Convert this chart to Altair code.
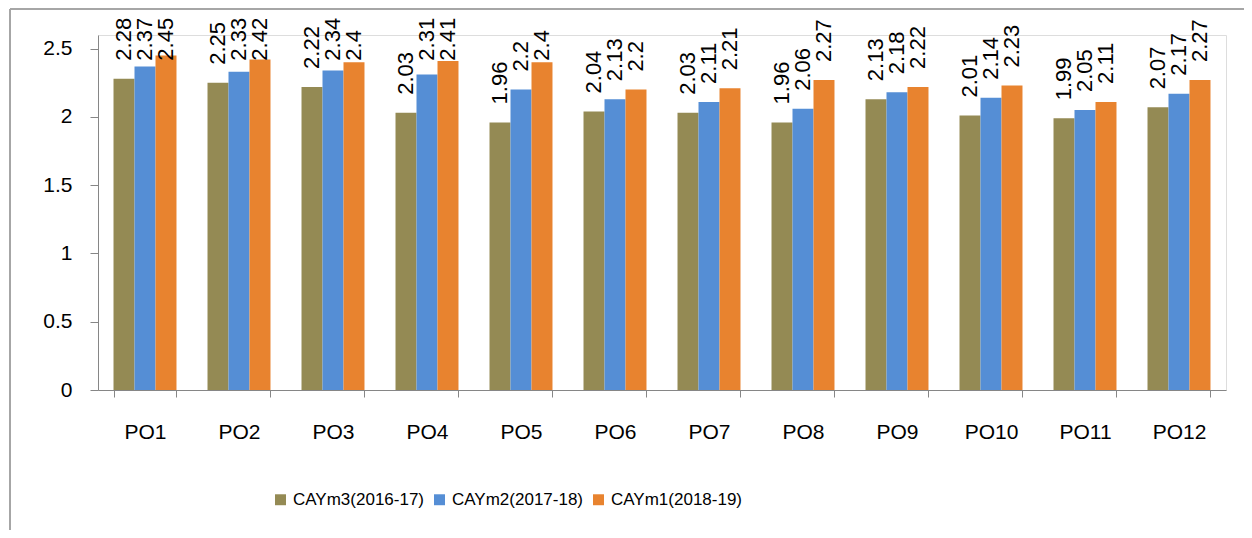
import altair as alt
import pandas as pd

categories = ["PO1", "PO2", "PO3", "PO4", "PO5", "PO6", "PO7", "PO8", "PO9", "PO10", "PO11", "PO12"]
series_names = ["CAYm3(2016-17)", "CAYm2(2017-18)", "CAYm1(2018-19)"]
cay_m3 = [2.28, 2.25, 2.22, 2.03, 1.96, 2.04, 2.03, 1.96, 2.13, 2.01, 1.99, 2.07]
cay_m2 = [2.37, 2.33, 2.34, 2.31, 2.2, 2.13, 2.11, 2.06, 2.18, 2.14, 2.05, 2.17]
cay_m1 = [2.45, 2.42, 2.4, 2.41, 2.4, 2.2, 2.21, 2.27, 2.22, 2.23, 2.11, 2.27]
colors = ["#948A54", "#558ED5", "#E8832F"]
y_ticks = [0, 0.5, 1, 1.5, 2, 2.5]

rows = []
for name, vals in zip(series_names, [cay_m3, cay_m2, cay_m1]):
    for c, v in zip(categories, vals):
        rows.append({"po": c, "series": name, "value": v, "label": f"{v:g}"})
df = pd.DataFrame(rows)

FONT = "Liberation Sans, Arial, sans-serif"

x_enc = alt.X("po:N", sort=categories, title=None,
              scale=alt.Scale(paddingInner=0.33, paddingOuter=0.165),
              axis=alt.Axis(labelAngle=0, tickBand="extent", tickSize=7,
                            labelPadding=24, labelFontSize=21, labelColor="#000000",
                            domainColor="#868686", tickColor="#868686", labelFont=FONT))
xo_enc = alt.XOffset("series:N", sort=series_names)
y_enc = alt.Y("value:Q", title=None,
              scale=alt.Scale(domain=[0, 2.6], nice=False),
              axis=alt.Axis(values=y_ticks, format="~g", grid=False, tickSize=8,
                            labelPadding=18, labelFontSize=21, labelColor="#000000",
                            domainColor="#868686", tickColor="#868686", labelFont=FONT))

base = alt.Chart(df)

bars = base.mark_bar().encode(
    x=x_enc, xOffset=xo_enc, y=y_enc,
    color=alt.Color("series:N", sort=series_names,
                    scale=alt.Scale(domain=series_names, range=colors),
                    legend=alt.Legend(title=None, orient="none", legendX=174, legendY=456,
                                      direction="horizontal", columns=3,
                                      symbolType="square", symbolSize=120,
                                      symbolStrokeWidth=0, labelFontSize=17,
                                      labelFont=FONT, labelColor="#000000",
                                      columnPadding=6, labelOffset=4)),
)

labels = base.transform_calculate(
    label_y="min(datum.value, 2.28)"
).mark_text(angle=270, align="left", baseline="middle", dx=18,
            fontSize=22, font=FONT, color="#000000").encode(
    x=alt.X("po:N", sort=categories), xOffset=xo_enc,
    y=alt.Y("label_y:Q"), text="label:N",
)

frame_data = alt.Data(values=[{"k": 1}])
top_line = alt.Chart(frame_data).mark_rule(color="#A6A6A6", strokeWidth=2).encode(
    x=alt.value(-88), x2=alt.value(1160), y=alt.value(-26))
left_line = alt.Chart(frame_data).mark_rule(color="#A6A6A6", strokeWidth=2).encode(
    x=alt.value(-88), y=alt.value(-26), y2=alt.value(520))

chart = alt.layer(bars, labels, top_line, left_line).properties(
    width=1128, height=355,
    autosize=alt.AutoSizeParams(type="none"),
    padding={"left": 90, "top": 27, "right": 18, "bottom": 140},
).configure_view(stroke=None).configure(background="white")

chart.save("out.html", embed_options={"renderer": "svg", "actions": False})
